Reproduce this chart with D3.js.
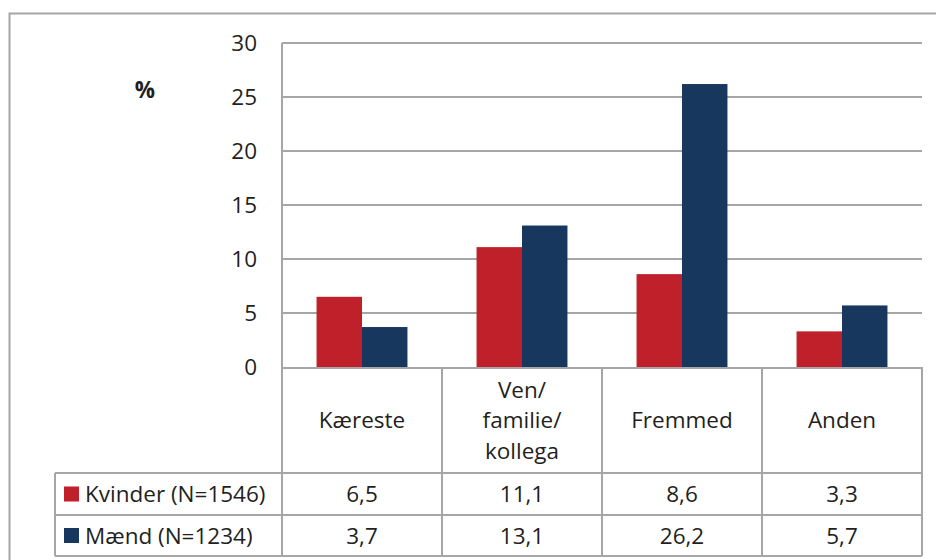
<!DOCTYPE html>
<html>
<head>
<meta charset="utf-8">
<script src="https://cdn.jsdelivr.net/npm/d3@7"></script>
<style>
  body { margin: 0; background: #fff; }
  svg text { font-family: "Open Sans", sans-serif; fill: #231f20; }
</style>
</head>
<body>
<svg id="chart"></svg>
<script>
// data
var categories = [["Kæreste"], ["Ven/", "familie/", "kollega"], ["Fremmed"], ["Anden"]];
var seriesNames = ["Kvinder (N=1546)", "Mænd (N=1234)"];
var kvinder = [6.5, 11.1, 8.6, 3.3];
var maend = [3.7, 13.1, 26.2, 5.7];
var yTicks = [0, 5, 10, 15, 20, 25, 30];

var colors = ['#C0202A', '#17375E'],
    grid = '#a6a6a6',
    fs = 22.5,
    W = 936, H = 560,
    pLeft = 282, pRight = 922, pTop = 43, pBottom = 367,
    headerBottom = 473, row1Bottom = 515, row2Bottom = 556,
    legendLeft = 55;

var svg = d3.select("#chart").attr("width", W).attr("height", H);

// outer frame
svg.append("rect")
    .attr("x", 9.5).attr("y", 13.5)
    .attr("width", 940).attr("height", 560)
    .attr("fill", "none").attr("stroke", grid).attr("stroke-width", 2);

var x = d3.scaleBand()
    .domain(d3.range(categories.length))
    .range([pLeft, pRight]);

var x1 = d3.scaleBand()
    .domain([0, 1])
    .range([0, x.bandwidth()])
    .paddingOuter(0.76);

var y = d3.scaleLinear().domain([0, 30]).range([pBottom, pTop]);

// gridlines
svg.append("g")
    .selectAll("line")
    .data(yTicks.slice(1))
    .enter()
    .append("line")
    .attr("x1", pLeft).attr("x2", pRight)
    .attr("y1", function(d) { return y(d); })
    .attr("y2", function(d) { return y(d); })
    .attr("stroke", grid).attr("stroke-width", 2);

// y axis labels
svg.append("g")
    .selectAll("text")
    .data(yTicks)
    .enter()
    .append("text")
    .attr("x", 257)
    .attr("y", function(d) { return y(d); })
    .attr("dy", "0.36em")
    .attr("text-anchor", "end")
    .attr("font-size", fs)
    .text(function(d) { return d; });

svg.append("text")
    .attr("x", 145).attr("y", 90)
    .attr("dy", "0.36em")
    .attr("text-anchor", "middle")
    .attr("font-size", fs).attr("font-weight", "bold")
    .text("%");

// bars
var series = [kvinder, maend];
series.forEach(function(vals, s) {
    svg.append("g")
        .selectAll("rect")
        .data(vals)
        .enter()
        .append("rect")
        .attr("x", function(d, i) { return x(i) + x1(s); })
        .attr("width", x1.bandwidth())
        .attr("y", function(d) { return y(d); })
        .attr("height", function(d) { return y(0) - y(d); })
        .attr("fill", colors[s]);
});

// table
var tbl = svg.append("g").attr("stroke", grid).attr("stroke-width", 2);
tbl.append("line").attr("x1", pLeft).attr("x2", pRight).attr("y1", pBottom + 1).attr("y2", pBottom + 1);
[headerBottom, row1Bottom, row2Bottom].forEach(function(yy) {
    tbl.append("line").attr("x1", legendLeft).attr("x2", pRight).attr("y1", yy).attr("y2", yy);
});
tbl.append("line").attr("x1", legendLeft).attr("x2", legendLeft).attr("y1", headerBottom).attr("y2", row2Bottom);
d3.range(categories.length + 1).forEach(function(i) {
    var xx = i < categories.length ? x(i) : pRight;
    tbl.append("line").attr("x1", xx).attr("x2", xx)
        .attr("y1", i === 0 ? pTop : pBottom)
        .attr("y2", row2Bottom);
});

// header labels
categories.forEach(function(lines, i) {
    var cy = (pBottom + headerBottom) / 2,
        lh = 30.5;
    var t = svg.append("text")
        .attr("text-anchor", "middle")
        .attr("font-size", fs);
    lines.forEach(function(l, k) {
        t.append("tspan")
            .attr("x", x(i) + x.bandwidth() / 2)
            .attr("y", cy + (k - (lines.length - 1) / 2) * lh)
            .attr("dy", "0.36em")
            .text(l);
    });
});

// rows
var rowMid = [(headerBottom + row1Bottom) / 2, (row1Bottom + row2Bottom) / 2];
var fmt = function(v) { return d3.format(".1f")(v).replace(".", ","); };
series.forEach(function(vals, s) {
    svg.append("rect")
        .attr("x", 64).attr("y", rowMid[s] - 7.5)
        .attr("width", 15).attr("height", 15)
        .attr("fill", colors[s]);
    svg.append("text")
        .attr("x", 85).attr("y", rowMid[s])
        .attr("dy", "0.36em")
        .attr("font-size", fs)
        .text(seriesNames[s]);
    svg.append("g")
        .selectAll("text")
        .data(vals)
        .enter()
        .append("text")
        .attr("x", function(d, i) { return x(i) + x.bandwidth() / 2; })
        .attr("y", rowMid[s])
        .attr("dy", "0.36em")
        .attr("text-anchor", "middle")
        .attr("font-size", fs)
        .text(fmt);
});
</script>
</body>
</html>
